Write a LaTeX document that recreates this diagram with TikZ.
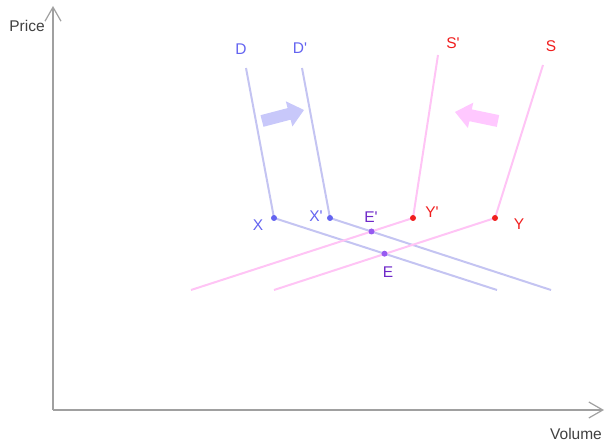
\documentclass[tikz,border=0pt]{standalone}
\usepackage{fontspec}
\newfontfamily\lblfont{Liberation Sans}
\usetikzlibrary{arrows.meta}
\definecolor{axisgray}{RGB}{160,160,160}
\definecolor{dline}{RGB}{196,196,242}
\definecolor{sline}{RGB}{255,196,245}
\definecolor{dlabel}{RGB}{100,100,240}
\definecolor{slabel}{RGB}{240,30,30}
\definecolor{elabel}{RGB}{110,40,200}
\definecolor{edot}{RGB}{150,90,240}
\definecolor{darrow}{RGB}{200,200,250}
\definecolor{sarrow}{RGB}{255,200,255}
\tikzset{
  axis/.style={draw=axisgray, line width=1.2pt, -{Straight Barb[length=14pt,width=16pt,line width=1.2pt]}},
  curve/.style={line width=2pt},
  dot/.style={circle, inner sep=0pt, minimum size=6pt},
  lbl/.style={font=\lblfont\fontsize{15.5}{15.5}\selectfont, inner sep=0pt}
}
\begin{document}
\begin{tikzpicture}[x=1pt, y=-1pt]
\useasboundingbox (0,0) rectangle (605,443);

% axes
\coordinate (O) at (53,410);
\coordinate (ytop) at (53,6);
\coordinate (xend) at (604,410);
\draw[axis] (O) -- (ytop);
\draw[axis] (O) -- (xend);
\node[lbl, text=black!75] (price) at (27,26) {Price};
\node[lbl, text=black!75] (volume) at (576,434) {Volume};

% key points
\coordinate (X) at (274,218);
\coordinate (Xp) at (330,218);
\coordinate (Yp) at (413,218);
\coordinate (Y) at (495,218);
\coordinate (Ep) at (371.5,231.5);
\coordinate (E) at (384.5,253.7);

% line ends
\coordinate (Dtop) at (246,68);
\coordinate (Dptop) at (302,68);
\coordinate (Sptop) at (438,55);
\coordinate (Stop) at (543,65);
\coordinate (Dend) at (497,290);
\coordinate (Dpend) at (551,290);
\coordinate (Spend) at (191,290);
\coordinate (Send) at (274,290);

% demand curves
\draw[curve, dline] (Dtop) -- (X) -- (Dend);
\draw[curve, dline] (Dptop) -- (Xp) -- (Dpend);
% supply curves
\draw[curve, sline] (Sptop) -- (Yp) -- (Spend);
\draw[curve, sline] (Stop) -- (Y) -- (Send);

% shift arrows
\fill[darrow] (260.5,115.2) -- (287.6,108.1) -- (285.8,101.3) -- (304,110)
  -- (292.4,126.5) -- (290.6,119.7) -- (263.5,126.8) -- cycle;
\fill[sarrow] (499.2,115.1) -- (471.8,109.4) -- (473.3,102.6) -- (455,112)
  -- (467.9,128.0) -- (469.4,121.2) -- (496.8,126.9) -- cycle;

% dots
\node[dot, fill=dlabel] (Xdot) at (X) {};
\node[dot, fill=dlabel] (Xpdot) at (Xp) {};
\node[dot, fill=slabel] (Ypdot) at (Yp) {};
\node[dot, fill=slabel] (Ydot) at (Y) {};
\node[dot, fill=edot] (Epdot) at (Ep) {};
\node[dot, fill=edot] (Edot) at (E) {};

% labels
\node[lbl, text=dlabel] (Dlbl) at (241,49) {D};
\node[lbl, text=dlabel] (Dplbl) at (300,48) {D'};
\node[lbl, text=slabel] (Splbl) at (453,43) {S'};
\node[lbl, text=slabel] (Slbl) at (551,46) {S};
\node[lbl, text=dlabel] (Xlbl) at (258,225) {X};
\node[lbl, text=dlabel] (Xplbl) at (316,216) {X'};
\node[lbl, text=elabel] (Eplbl) at (371,217) {E'};
\node[lbl, text=slabel] (Yplbl) at (432,212) {Y'};
\node[lbl, text=slabel] (Ylbl) at (519,224) {Y};
\node[lbl, text=elabel] (Elbl) at (388,272) {E};
\end{tikzpicture}
\end{document}
